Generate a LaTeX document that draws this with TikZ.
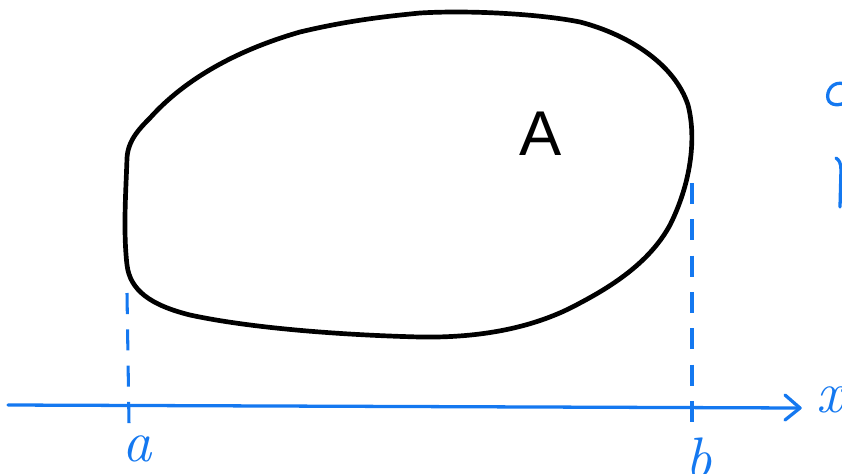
\documentclass[tikz,border=0pt]{standalone}
\usepackage{fontspec}
\setsansfont{Liberation Sans}
\definecolor{pen}{RGB}{20,120,240}
\begin{document}
\begin{tikzpicture}[x=0.03cm,y=-0.03cm,
  blob/.style={draw=black,line width=4pt,line join=round},
  blueline/.style={draw=pen,line width=2.8pt,line cap=round},
  guide/.style={draw=pen,line width=2.6pt,dash pattern=on 18pt off 13pt},
  lbl/.style={text=pen,inner sep=0pt,font=\itshape\fontsize{50}{54}\selectfont}]
\useasboundingbox (0,0) rectangle (842,473);
\clip (0,0) rectangle (842,473);
% region A
\draw[blob] (127,158) .. controls (128,140) and (140,128) .. (150,118)
  .. controls (175,90) and (220,55) .. (300,32)
  .. controls (350,20) and (390,16) .. (420,13)
  .. controls (470,10) and (540,14) .. (580,22)
  .. controls (630,35) and (675,65) .. (688,105)
  .. controls (697,140) and (690,185) .. (670,225)
  .. controls (652,258) and (620,282) .. (580,303)
  .. controls (535,328) and (480,338) .. (420,337)
  .. controls (340,335) and (250,328) .. (190,315)
  .. controls (150,305) and (130,290) .. (127,265)
  .. controls (123,230) and (126,190) .. (127,158) -- cycle;
\node[font=\sffamily\fontsize{54}{58}\selectfont,inner sep=0pt] (A) at (541,134) {A};
% axis
\coordinate (x0) at (8,405);
\coordinate (x1) at (800,408);
\draw[blueline] (x0) -- (x1);
\draw[blueline,line join=round] (785,395) -- (x1) -- (785,420);
\node[lbl] (xl) at (830,400) {x};
% guides
\coordinate (a0) at (127,293);
\coordinate (a1) at (129,424);
\coordinate (b0) at (692,183);
\coordinate (b1) at (692,428);
\draw[guide] (a0) -- (a1);
\draw[guide] (b0) -- (b1);
\node[lbl] (al) at (137,449) {a};
\node[lbl] (bl) at (699,458) {b};
% cut-off marks at right edge
\draw[blueline] (845,84) .. controls (832,80) and (826,92) .. (828,99)
  .. controls (830,106) and (840,106) .. (846,102);
\draw[blueline] (836,158) .. controls (839,160) and (841,163) .. (841,170) -- (840,207);
\end{tikzpicture}
\end{document}
